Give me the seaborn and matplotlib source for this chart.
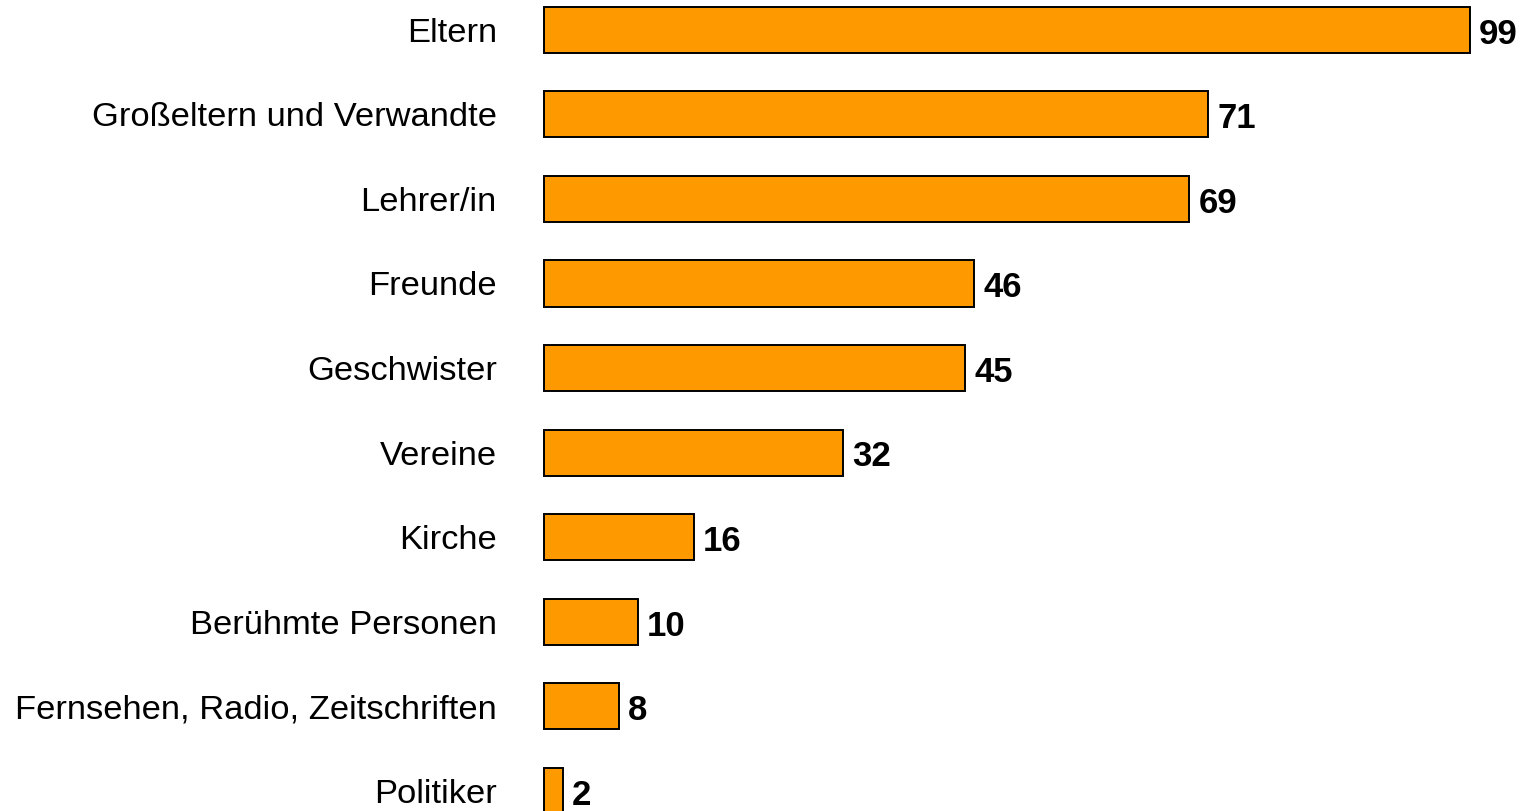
import pandas as pd
import matplotlib
matplotlib.use("Agg")
import matplotlib.pyplot as plt
import matplotlib.transforms as mtransforms
import seaborn as sns

# Daten
kategorien = ["Eltern", "Großeltern und Verwandte", "Lehrer/in", "Freunde",
              "Geschwister", "Vereine", "Kirche", "Berühmte Personen",
              "Fernsehen, Radio, Zeitschriften", "Politiker"]
werte = [99, 71, 69, 46, 45, 32, 16, 10, 8, 2]

df = pd.DataFrame({"kategorie": kategorien, "wert": werte})

sns.set_style("white")
plt.rcParams['font.family'] = ['Liberation Sans', 'DejaVu Sans']

fig = plt.figure(figsize=(15.28, 8.12), dpi=100)
ax = fig.add_axes([544 / 1528, 0, 984 / 1528, 1])

sns.barplot(data=df, x="wert", y="kategorie", orient="h", color="#FF9900",
            saturation=1, width=0.545, edgecolor="black", linewidth=1.4, ax=ax)

for p in ax.patches:
    p.set_clip_on(False)

ax.set_xlim(0, 984 / 9.35)
ax.set_ylim(9.24, -0.365)

# Werte neben den Balken
for i, v in enumerate(werte):
    ax.text(v + 1.0, i + 0.04, str(v), va="center", ha="left",
            fontsize=25, fontweight="bold", color="black")

ax.set_xlabel("")
ax.set_ylabel("")
ax.set_xticks([])
ax.tick_params(axis="y", length=0, pad=34, labelsize=24.8, labelcolor="black")
verschiebung = mtransforms.ScaledTranslation(0, 1 / 100, fig.dpi_scale_trans)
for lbl in ax.get_yticklabels():
    lbl.set_transform(lbl.get_transform() + verschiebung)
for s in ax.spines.values():
    s.set_visible(False)

fig.savefig("out.png", dpi=100)
